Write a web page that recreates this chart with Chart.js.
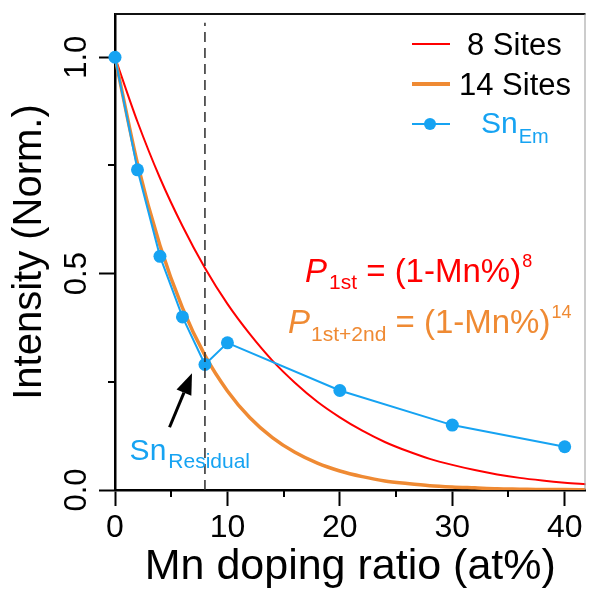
<!DOCTYPE html>
<html lang="en">
<head>
<meta charset="UTF-8" />
<title>Sn intensity vs Mn doping</title>
<script src="https://cdn.jsdelivr.net/npm/chart.js"></script>
<style>
    body {
        margin: 0;
        background: #fff;
    }
    #wrap {
        width: 592px;
        height: 589px;
    }
</style>
</head>
<body>

<div id="wrap">
    <canvas id="decayChart" width="592" height="589"></canvas>
</div>

<script>
    // measured Sn emission, normalised
    const mnRatio = [0, 2, 4, 6, 8, 10, 20, 30, 40];
    const snEm = [1.0, 0.74, 0.54, 0.40, 0.29, 0.34, 0.23, 0.15, 0.10];

    // survival probability curves, 8 and 14 neighbour sites
    const curveMn = [0, 2, 4, 6, 8, 10, 12, 14, 16, 18, 20, 22, 24, 26, 28, 30, 32, 34, 36, 38, 40, 42];
    const sites8 = [1.0, 0.851, 0.721, 0.610, 0.513, 0.430, 0.360, 0.299, 0.248, 0.204, 0.168,
                    0.137, 0.111, 0.090, 0.072, 0.058, 0.046, 0.036, 0.028, 0.022, 0.017, 0.013];
    const sites14 = [1.0, 0.754, 0.565, 0.421, 0.311, 0.229, 0.167, 0.121, 0.087, 0.062, 0.044,
                     0.031, 0.021, 0.015, 0.010, 0.007, 0.005, 0.003, 0.002, 0.001, 0.001, 0.0005];

    const xTicks = [0, 10, 20, 30, 40];
    const xMinor = [5, 15, 25, 35];
    const yTicks = [0, 0.5, 1.0];
    const yMinor = [0.25, 0.75];

    const residualMn = 8;      // dashed guide
    const guideTop = 1.08;

    const FONT = '"Liberation Sans", Arial, sans-serif';
    const RED = '#ff0000';
    const ORANGE = '#ef8a33';
    const BLUE = '#16a3f2';

    const pts = (xs, ys) => xs.map((x, i) => ({x: x, y: ys[i]}));

    // draw a run of text pieces (sub/superscripts) left to right
    function textRun(ctx, x, y, color, parts) {
        ctx.save();
        ctx.fillStyle = color;
        ctx.textAlign = 'left';
        ctx.textBaseline = 'alphabetic';
        parts.forEach(p => {
            ctx.font = (p.italic ? 'italic ' : '') + p.size + 'px ' + FONT;
            x += p.dx || 0;
            ctx.fillText(p.text, x, y + (p.dy || 0));
            x += ctx.measureText(p.text).width;
        });
        ctx.restore();
    }

    const decorations = {
        id: 'decorations',
        afterDraw(chart) {
            const {ctx, chartArea: a, scales} = chart;
            const xs = scales.x, ys = scales.y;

            ctx.save();
            // frame: top dark, right light
            ctx.strokeStyle = '#111';
            ctx.lineWidth = 2;
            ctx.beginPath();
            ctx.moveTo(a.left, a.top);
            ctx.lineTo(a.right, a.top);
            ctx.stroke();
            ctx.strokeStyle = '#999';
            ctx.lineWidth = 1;
            ctx.beginPath();
            ctx.moveTo(a.right - 0.5, a.top);
            ctx.lineTo(a.right - 0.5, a.bottom);
            ctx.stroke();

            // minor ticks
            ctx.strokeStyle = '#000';
            ctx.lineWidth = 2;
            ctx.beginPath();
            xMinor.forEach(v => {
                const px = Math.round(xs.getPixelForValue(v));
                ctx.moveTo(px, a.bottom);
                ctx.lineTo(px, a.bottom + 7);
            });
            yMinor.forEach(v => {
                const py = Math.round(ys.getPixelForValue(v));
                ctx.moveTo(a.left, py);
                ctx.lineTo(a.left - 7, py);
            });
            ctx.stroke();

            // arrow pointing at the residual point
            const x0 = xs.getPixelForValue(4.85), y0 = ys.getPixelForValue(0.145);
            const x1 = xs.getPixelForValue(6.85), y1 = ys.getPixelForValue(0.27);
            const ang = Math.atan2(y1 - y0, x1 - x0);
            const hl = 21, hw = 8;
            const bx = x1 - hl * Math.cos(ang), by = y1 - hl * Math.sin(ang);
            ctx.strokeStyle = '#000';
            ctx.fillStyle = '#000';
            ctx.lineWidth = 3;
            ctx.beginPath();
            ctx.moveTo(x0, y0);
            ctx.lineTo(bx, by);
            ctx.stroke();
            ctx.beginPath();
            ctx.moveTo(x1, y1);
            ctx.lineTo(bx + hw * Math.sin(ang), by - hw * Math.cos(ang));
            ctx.lineTo(bx - hw * Math.sin(ang), by + hw * Math.cos(ang));
            ctx.closePath();
            ctx.fill();

            // legend
            const lx0 = 412, lx1 = 450;
            ctx.lineCap = 'butt';
            ctx.strokeStyle = RED;
            ctx.lineWidth = 2;
            ctx.beginPath(); ctx.moveTo(lx0, 44); ctx.lineTo(lx1, 44); ctx.stroke();
            ctx.strokeStyle = ORANGE;
            ctx.lineWidth = 4;
            ctx.beginPath(); ctx.moveTo(lx0, 84); ctx.lineTo(lx1, 84); ctx.stroke();
            ctx.strokeStyle = BLUE;
            ctx.lineWidth = 2;
            ctx.beginPath(); ctx.moveTo(lx0, 124); ctx.lineTo(lx1, 124); ctx.stroke();
            ctx.fillStyle = BLUE;
            ctx.beginPath(); ctx.arc(430, 124, 6, 0, Math.PI * 2); ctx.fill();
            ctx.restore();

            textRun(ctx, 467, 55, '#000', [{text: '8 Sites', size: 31}]);
            textRun(ctx, 459, 95, '#000', [{text: '14 Sites', size: 31}]);
            textRun(ctx, 481, 133, BLUE, [{text: 'Sn', size: 30}, {text: 'Em', size: 20, dy: 10, dx: 1}]);

            // formulas
            textRun(ctx, 305, 282, RED, [
                {text: 'P', size: 33, italic: true},
                {text: '1st', size: 21, dy: 7, dx: 2},
                {text: ' = (1-Mn%)', size: 33},
                {text: '8', size: 18, dy: -15, dx: 1}
            ]);
            textRun(ctx, 288, 333, ORANGE, [
                {text: 'P', size: 33, italic: true},
                {text: '1st+2nd', size: 21, dy: 8, dx: 1},
                {text: ' = (1-Mn%)', size: 33},
                {text: '14', size: 18, dy: -15, dx: 1}
            ]);

            // residual label
            textRun(ctx, xs.getPixelForValue(1.3), ys.getPixelForValue(0.069), BLUE, [
                {text: 'Sn', size: 30},
                {text: 'Residual', size: 21, dy: 8, dx: 2}
            ]);
        }
    };

    const ctx = document.getElementById('decayChart').getContext('2d');
    new Chart(ctx, {
        type: 'line',
        data: {
            datasets: [
                {
                    label: 'guide',
                    data: [{x: residualMn, y: 0}, {x: residualMn, y: guideTop}],
                    borderColor: '#2a2a2a',
                    borderWidth: 1.5,
                    borderDash: [10, 6],
                    pointRadius: 0,
                    order: 0
                },
                {
                    label: 'SnEm',
                    data: pts(mnRatio, snEm),
                    borderColor: BLUE,
                    backgroundColor: BLUE,
                    borderWidth: 2,
                    pointRadius: 6.5,
                    pointBorderWidth: 0,
                    tension: 0,
                    clip: false,
                    order: 1
                },
                {
                    label: '14 Sites',
                    data: pts(curveMn, sites14),
                    borderColor: ORANGE,
                    borderWidth: 3.5,
                    pointRadius: 0,
                    cubicInterpolationMode: 'monotone',
                    order: 2
                },
                {
                    label: '8 Sites',
                    data: pts(curveMn, sites8),
                    borderColor: RED,
                    borderWidth: 2,
                    pointRadius: 0,
                    cubicInterpolationMode: 'monotone',
                    order: 3
                }
            ]
        },
        options: {
            responsive: false,
            animation: false,
            devicePixelRatio: 1,
            layout: { padding: { top: 14, right: 1, left: 0, bottom: 0 } },
            plugins: {
                legend: { display: false },
                tooltip: { enabled: false }
            },
            scales: {
                x: {
                    type: 'linear',
                    min: 0,
                    max: 41.85,
                    afterBuildTicks: s => { s.ticks = xTicks.map(v => ({value: v})); },
                    afterFit: s => {
                        s.height = 99;
                        s.paddingLeft = 0;
                        s.paddingRight = 0;
                    },
                    ticks: {
                        color: '#000',
                        font: { family: FONT, size: 32 },
                        padding: 3,
                        maxRotation: 0,
                        callback: v => String(v)
                    },
                    grid: {
                        drawOnChartArea: false,
                        drawTicks: true,
                        tickLength: 16,
                        tickWidth: 2,
                        tickColor: '#000'
                    },
                    border: { display: true, color: '#000', width: 2.5 },
                    title: {
                        display: true,
                        text: 'Mn doping ratio (at%)',
                        color: '#000',
                        font: { family: FONT, size: 43, lineHeight: 1 },
                        padding: { top: 0, bottom: 0 }
                    }
                },
                y: {
                    type: 'linear',
                    min: 0,
                    max: 1.1,
                    afterBuildTicks: s => { s.ticks = yTicks.map(v => ({value: v})); },
                    afterFit: s => {
                        s.width = 115;
                        s.paddingTop = 0;
                        s.paddingBottom = 0;
                    },
                    ticks: {
                        color: '#000',
                        font: { family: FONT, size: 31 },
                        padding: 0,
                        minRotation: 90,
                        maxRotation: 90,
                        crossAlign: 'center',
                        callback: v => v.toFixed(1)
                    },
                    grid: {
                        drawOnChartArea: false,
                        drawTicks: true,
                        tickLength: 16,
                        tickWidth: 2,
                        tickColor: '#000'
                    },
                    border: { display: true, color: '#000', width: 2.5 },
                    title: {
                        display: true,
                        text: 'Intensity (Norm.)',
                        color: '#000',
                        font: { family: FONT, size: 40, lineHeight: 1.2 },
                        padding: { top: 6, bottom: 0 }
                    }
                }
            }
        },
        plugins: [decorations]
    });
</script>

</body>
</html>
